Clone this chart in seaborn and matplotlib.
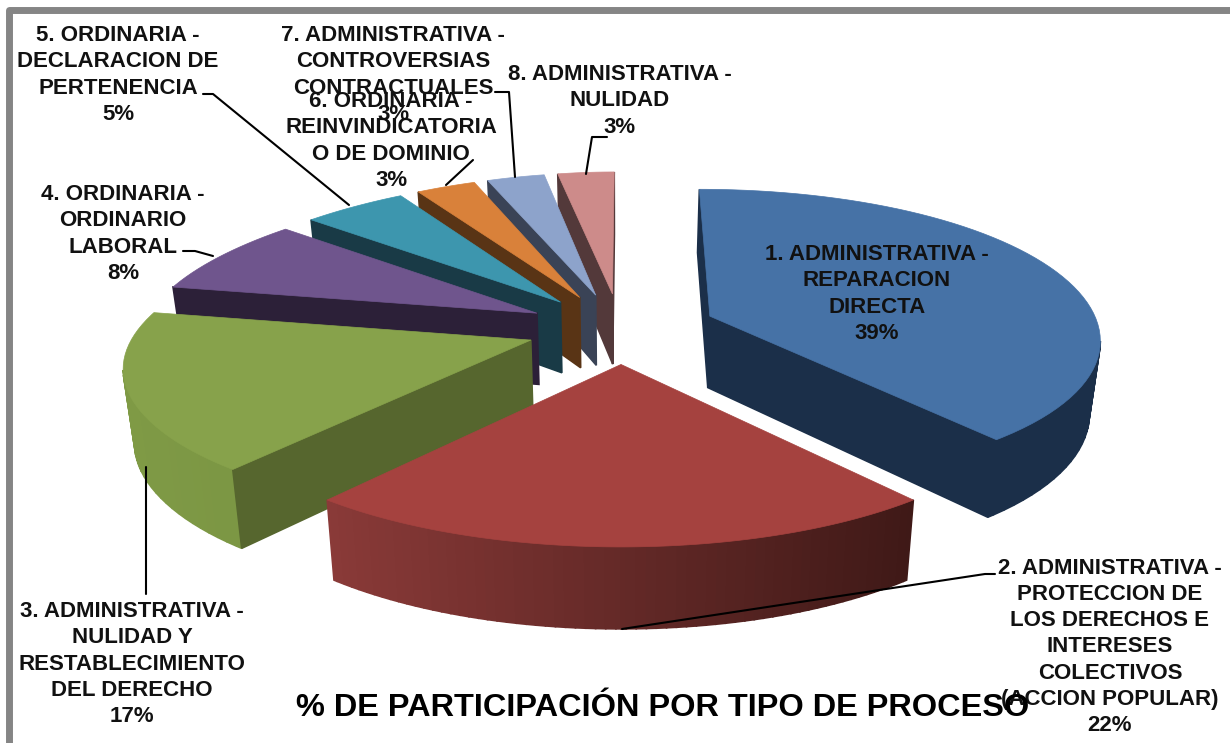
"""
Exploded 3D-look pie: participation by process type.
"""

import matplotlib
matplotlib.use("Agg")
import matplotlib.pyplot as plt
import matplotlib.colors as mcolors
from matplotlib.transforms import Affine2D
import numpy as np
import seaborn as sns

# data
process_names = [
    "1. ADMINISTRATIVA -\nREPARACION\nDIRECTA",
    "2. ADMINISTRATIVA -\nPROTECCION DE\nLOS DERECHOS E\nINTERESES\nCOLECTIVOS\n(ACCION POPULAR)",
    "3. ADMINISTRATIVA -\nNULIDAD Y\nRESTABLECIMIENTO\nDEL DERECHO",
    "4. ORDINARIA -\nORDINARIO\nLABORAL",
    "5. ORDINARIA -\nDECLARACION DE\nPERTENENCIA",
    "6. ORDINARIA -\nREINVINDICATORIA\nO DE DOMINIO",
    "7. ADMINISTRATIVA -\nCONTROVERSIAS\nCONTRACTUALES",
    "8. ADMINISTRATIVA -\nNULIDAD",
]
shares = [39, 22, 17, 8, 5, 3, 3, 3]
title_text = "% DE PARTICIPACIÓN POR TIPO DE PROCESO"

top_colors = ["#4672a6", "#a5423f", "#87a24b", "#6f558d", "#3d96ae", "#d9813a", "#8da3cb", "#cd8b8a"]
cut_colors = ["#1b2f49", "#451916", "#56662e", "#2c2038", "#193a46", "#593415", "#3a4356", "#53393a"]
arc_left = ["#1b2f49", "#8a3a38", "#7f9a45", "#2c2038", "#193a46", "#593415", "#3a4356", "#53393a"]
arc_right = ["#1b2f49", "#3f1917", "#738d42", "#2c2038", "#193a46", "#593415", "#3a4356", "#53393a"]

# label centres in pixels, same order as the slices
label_x = [877, 1110, 132, 123, 118, 391, 393, 620]
label_y = [294, 647, 664, 234, 75, 141, 75, 101]

# leader lines in pixels
leaders = [
    [(622, 629), (985, 574), (995, 574)],
    [(146, 467), (146, 594)],
    [(183, 251), (195, 251), (213, 256)],
    [(203, 94), (213, 94), (349, 205)],
    [(473, 160), (446, 185)],
    [(495, 92), (509, 92), (515, 177)],
    [(607, 137), (592, 137), (586, 174)],
]

WIDTH, HEIGHT = 1230, 743
CX, CY, RX, RY = 621, 328, 398, 147
PERSPECTIVE = 0.135
EXPLODE = 0.24
BASE_SHRINK = 0.023
DRAW_ORDER = [7, 6, 5, 4, 3, 2, 0, 1]


def project(points):
    """Map pie coordinates to pixels, nearer slices come out bigger."""
    x, y = points[:, 0], points[:, 1]
    scale = 1 / (1 + PERSPECTIVE * y)
    # the original squeezes the back-left and far-right a little more
    squeeze = np.where(
        x < 0,
        1 - 0.04 * np.clip(y + 0.5, 0, None) ** 2,
        1 - 0.012 * x ** 2,
    )
    return np.column_stack([CX + RX * x * scale * squeeze, CY - RY * y * scale])


def project_base(points):
    """Same as project, for the underside of the slice."""
    top = project(points)
    x = CX + (top[:, 0] - CX) * (1 - BASE_SHRINK)
    return np.column_stack([x, top[:, 1] + 72 - 8 * points[:, 1]])


def draw_slice(ax, outline, idx, zorder):
    """Draw the visible walls of one slice and then its top face."""
    top = project(outline)
    base = project_base(outline)
    xmin, xmax = top[:, 0].min(), top[:, 0].max()
    left = np.array(mcolors.to_rgb(arc_left[idx]))
    right = np.array(mcolors.to_rgb(arc_right[idx]))
    for k in range(len(top) - 1):
        p, q = top[k], top[k + 1]
        # the outline runs counter-clockwise, so dx > 0 faces the viewer
        if q[0] <= p[0]:
            continue
        if np.hypot(*(outline[k + 1] - outline[k])) > 0.5:
            color = cut_colors[idx]
        else:
            t = ((p[0] + q[0]) / 2 - xmin) / max(xmax - xmin, 1)
            color = mcolors.to_hex(left + (right - left) * t)
        ax.fill(
            [p[0], q[0], base[k + 1, 0], base[k, 0]],
            [p[1], q[1], base[k + 1, 1], base[k, 1]],
            color=color, lw=1.2, zorder=zorder,
        )
    ax.fill(top[:, 0], top[:, 1], color=top_colors[idx], lw=0.5, zorder=zorder + 0.5)


sns.set_theme(style="white")
plt.rcParams["font.family"] = ["Liberation Sans", "DejaVu Sans"]

fig = plt.figure(figsize=(WIDTH / 100, HEIGHT / 100), dpi=100)
ax = fig.add_axes([0, 0, 1, 1])

wedges, _ = ax.pie(
    shares,
    explode=[EXPLODE] * len(shares),
    startangle=90,
    counterclock=False,
    colors=sns.color_palette(top_colors),
)

outlines = []
for wedge in wedges:
    # scale up before flattening so the arc gets enough segments
    to_big = wedge.get_patch_transform() + Affine2D().scale(1000)
    outlines.append(to_big.transform_path(wedge.get_path()).to_polygons()[0] / 1000)
    wedge.remove()

ax.set_aspect("auto")
ax.set_xlim(0, WIDTH)
ax.set_ylim(HEIGHT, 0)
ax.axis("off")

for rank, idx in enumerate(DRAW_ORDER):
    draw_slice(ax, outlines[idx], idx, 2 + rank)

for line in leaders:
    xs, ys = zip(*line)
    ax.plot(xs, ys, color="black", lw=1.5, zorder=12)

# frame only shows on top and left
ax.plot([8.5, 8.5, WIDTH], [HEIGHT, 10, 10], color="#858585", lw=5, zorder=1,
        solid_joinstyle="round")

for name, share, x, y in zip(process_names, shares, label_x, label_y):
    ax.text(x, y, f"{name}\n{share}%", ha="center", va="center", fontsize=16,
            fontweight="bold", color="#111111", linespacing=1.32, zorder=14)

ax.text(663, 708, title_text, ha="center", va="center", fontsize=23.4,
        fontweight="bold", color="black", zorder=15)

fig.savefig("out.png", dpi=100)
plt.close(fig)
